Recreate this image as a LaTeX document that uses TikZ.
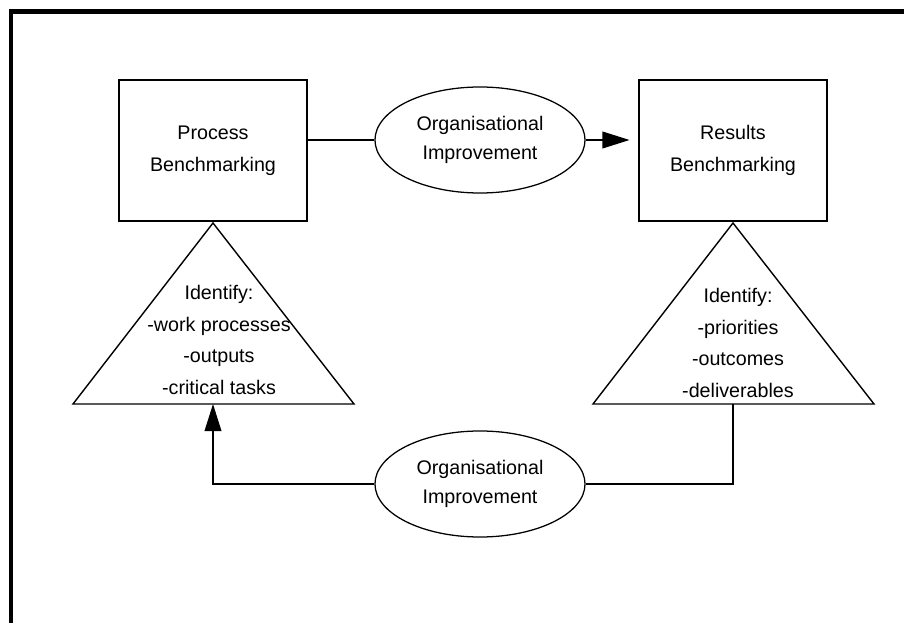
\documentclass[tikz,border=0pt]{standalone}
\usepackage{fontspec}
\setmainfont{Liberation Sans}
\usetikzlibrary{arrows.meta}
\usetikzlibrary{shapes.geometric}
\tikzset{
    common/.style={align=center, inner sep=0pt, font=\fontsize{14}{22.5}\selectfont},
    bench/.style={common, draw, rectangle, line width=1.4pt, minimum width=4.7cm, minimum height=3.525cm},
    impr/.style={common, draw, ellipse, line width=0.9pt, minimum width=5.25cm, minimum height=2.65cm, font=\fontsize{14}{20.6}\selectfont},
    tri/.style={draw, line width=1pt, line join=miter},
    link/.style={draw, line width=1pt},
    tip/.style={-{Triangle[length=0.68cm, width=0.42cm]}},
    frame/.style={draw, line width=3.5pt}
}
\begin{document}
\begin{tikzpicture}[x=0.025cm, y=-0.025cm]
    \useasboundingbox (0,0) rectangle (904,623);
    \draw[frame] (11,623) -- (11,11.5) -- (904,11.5);

    \path
        node[bench] (proc) at (213,150.5) {Process\\Benchmarking}
        node[bench] (res) at (733,150.5) {Results\\Benchmarking}
        node[impr] (impr-top) at (480,140) {Organisational\\Improvement}
        node[impr] (impr-bottom) at (480,484) {Organisational\\Improvement};

    \path
        (213,223) coordinate (proc-apex)
        +(-140,181) coordinate (proc-left)
        +(141,181) coordinate (proc-right)
        +(0,181) coordinate (proc-base)
        (733,223) coordinate (res-apex)
        +(-140,181) coordinate (res-left)
        +(141,181) coordinate (res-right)
        +(0,181) coordinate (res-base);

    \draw[tri] (proc-apex) -- (proc-right) -- (proc-left) -- cycle;
    \draw[tri] (res-apex) -- (res-right) -- (res-left) -- cycle;

    \node[common] (proc-list) at (219,340) {Identify:\\-work processes\\-outputs\\-critical tasks};
    \node[common] (res-list) at (738,343) {Identify:\\-priorities\\-outcomes\\-deliverables};

    \draw[link] (impr-top.west) -- (impr-top.west -| proc.east);
    \draw[link, tip, shorten >=6] (impr-top.east) -- (impr-top.east -| res.west);
    \draw[link] (res-base) |- (impr-bottom.east);
    \draw[link, tip] (impr-bottom.west) -| (proc-base);
\end{tikzpicture}
\end{document}
